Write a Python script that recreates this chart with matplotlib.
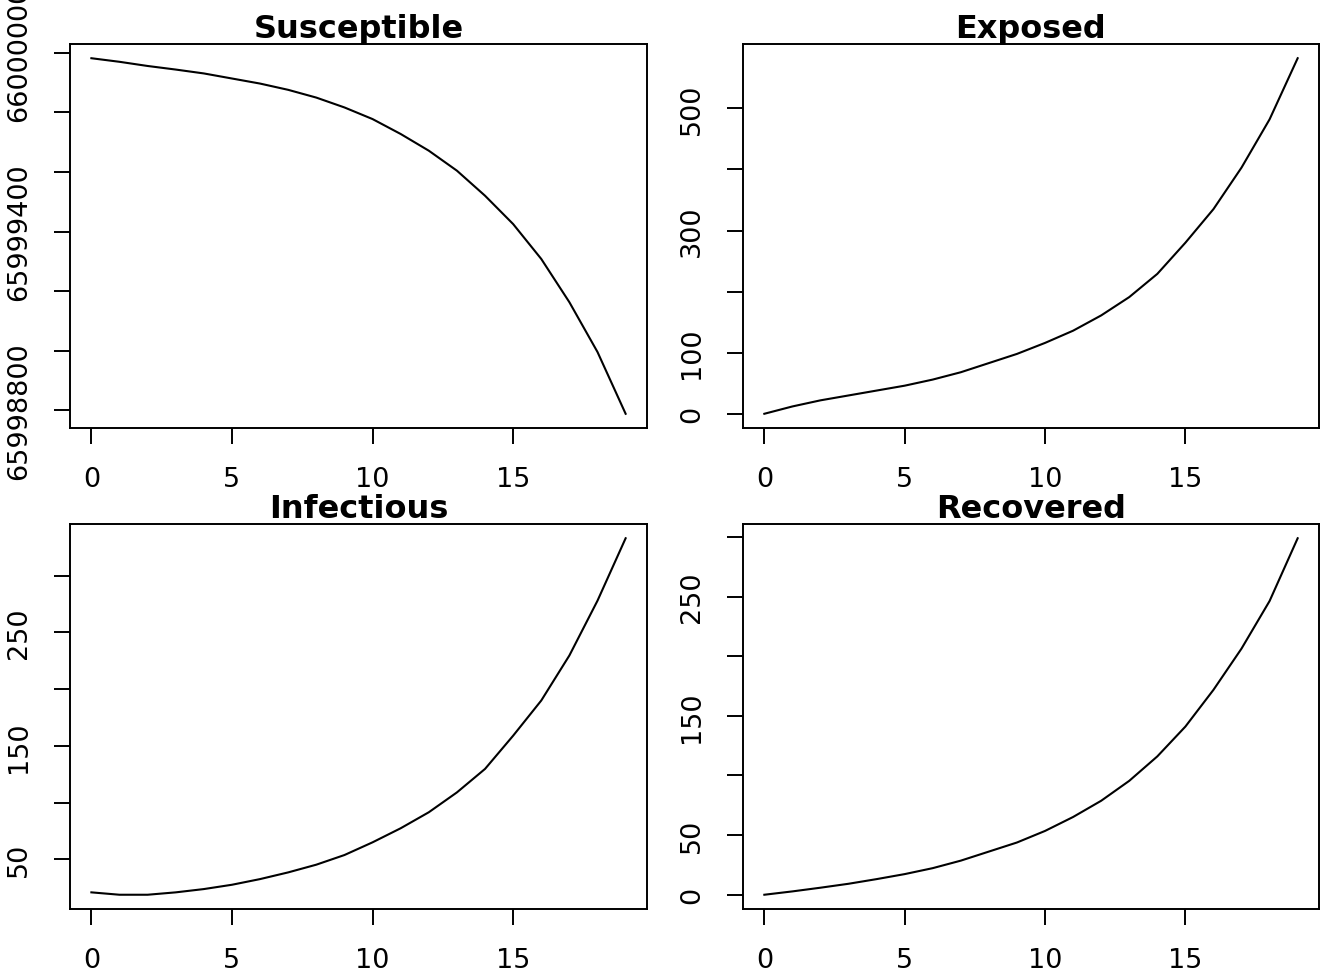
import numpy as np
import matplotlib
matplotlib.use('Agg')
import matplotlib.pyplot as plt

# SEIR compartments, days 0..19
days = list(range(20))
susceptible = [65999981, 65999969, 65999955, 65999943, 65999930, 65999913,
               65999896, 65999875, 65999849, 65999816, 65999777, 65999727,
               65999671, 65999604, 65999520, 65999425, 65999308, 65999163,
               65998996, 65998789]
exposed = [0, 12, 22, 30, 38, 46, 56, 68, 83, 98, 116, 136, 161, 191, 229,
           280, 335, 403, 482, 582]
infectious = [20.9, 18.8, 18.8, 20.9, 23.8, 27.6, 32.6, 38.5, 45.3, 53.8, 65,
              77.4, 91.5, 109, 129.7, 159, 190, 229.7, 278, 333]
recovered = [0, 2.8, 5.9, 9.2, 13.1, 17.3, 22.3, 28.6, 36.2, 43.8, 53.5, 65.2,
             78.8, 95.5, 116, 141, 171.8, 206.4, 246.3, 298.9]

titles = ['Susceptible', 'Exposed', 'Infectious', 'Recovered']
x_ticks = [0, 5, 10, 15]

# y ticks and the labels R kept (others dropped for overlap)
s_ticks = [65998800, 65999000, 65999200, 65999400, 65999600, 65999800, 66000000]
s_labels = ['65998800', '', '', '65999400', '', '', '66000000']
e_ticks = [0, 100, 200, 300, 400, 500]
e_labels = ['0', '100', '', '300', '', '500']
i_ticks = [50, 100, 150, 200, 250, 300]
i_labels = ['50', '', '150', '', '250', '']
r_ticks = [0, 50, 100, 150, 200, 250, 300]
r_labels = ['0', '50', '', '150', '', '250', '']

series = [susceptible, exposed, infectious, recovered]
yticks = [s_ticks, e_ticks, i_ticks, r_ticks]
ylabels = [s_labels, e_labels, i_labels, r_labels]

W, H = 1320, 970
fig = plt.figure(figsize=(W / 100, H / 100), dpi=100)

# axes boxes in pixels: left, top, right, bottom
boxes = [(70, 45, 647, 429), (743, 45, 1319, 429),
         (70, 525, 647, 910), (743, 525, 1319, 910)]

for k in range(4):
    l, t, r, b = boxes[k]
    ax = fig.add_axes([l / W, 1 - b / H, (r - l) / W, (b - t) / H])
    ax.plot(days, series[k], color='black', lw=1.5)
    ax.margins(x=0.04, y=0.04)
    ax.set_xticks(x_ticks)
    ax.set_yticks(yticks[k])
    ax.set_yticklabels(ylabels[k])
    ax.tick_params(axis='both', direction='out', length=11.5, width=1.4,
                   labelsize=19.5, pad=16, colors='black')
    ax.tick_params(axis='y', labelrotation=90)
    for lab in ax.get_yticklabels():
        lab.set_verticalalignment('center')
    for sp in ax.spines.values():
        sp.set_linewidth(1.4)
    ax.set_title(titles[k], fontsize=23, fontweight='bold', pad=2.5)

fig.savefig('out.png', dpi=100)
